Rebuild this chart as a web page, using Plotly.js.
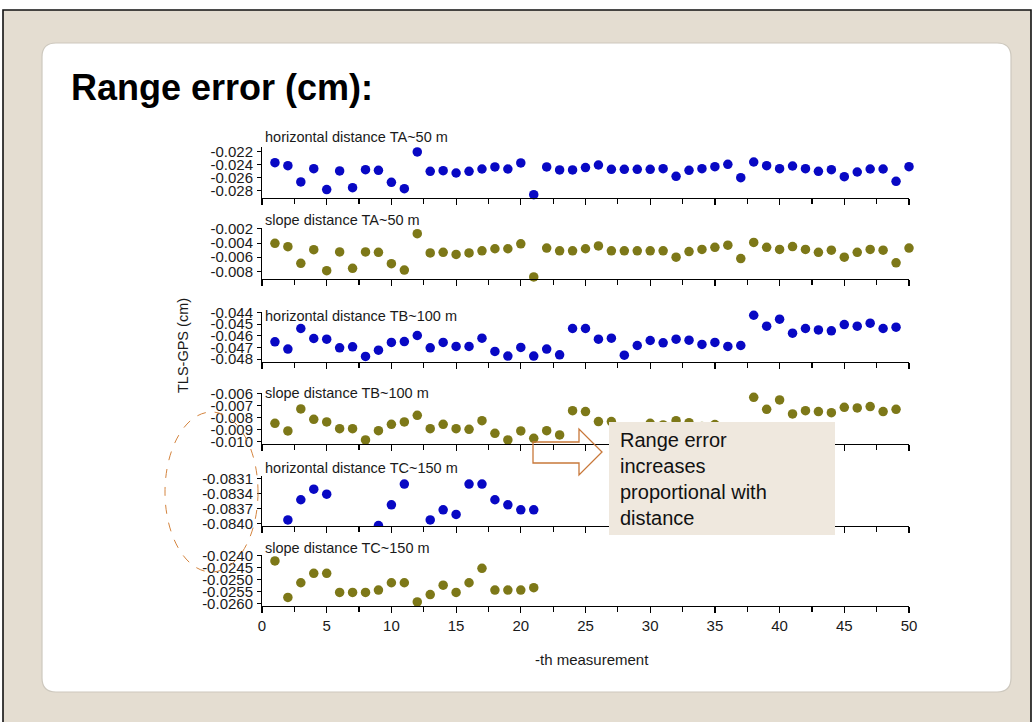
<!DOCTYPE html>
<html><head><meta charset="utf-8">
<script src="https://cdn.plot.ly/plotly-3.0.1.min.js"></script>
<style>html,body{margin:0;padding:0;background:#fff;}#chart{width:1034px;height:722px;}</style>
</head><body><div id="chart"></div>
<script>
// ---------- data ----------
const measTA = [1,2,3,4,5,6,7,8,9,10,11,12,13,14,15,16,17,18,19,20,21,22,23,24,25,26,27,28,29,30,31,32,33,34,35,36,37,38,39,40,41,42,43,44,45,46,47,48,49,50];
const taHorizontal = [-0.02373,-0.02419,-0.02668,-0.02465,-0.02785,-0.02500,-0.02755,-0.02480,-0.02490,-0.02673,
 -0.02770,-0.02210,-0.02505,-0.02495,-0.02531,-0.02505,-0.02470,-0.02439,-0.02470,-0.02378,
 -0.02862,-0.02439,-0.02485,-0.02485,-0.02449,-0.02409,-0.02475,-0.02475,-0.02475,-0.02475,
 -0.02465,-0.02582,-0.02490,-0.02465,-0.02434,-0.02398,-0.02602,-0.02363,-0.02419,-0.02465,
 -0.02424,-0.02465,-0.02505,-0.02480,-0.02587,-0.02516,-0.02470,-0.02470,-0.02658,-0.02434];
const taSlope = [-0.00403,-0.00451,-0.00687,-0.00493,-0.00791,-0.00526,-0.00758,-0.00526,-0.00531,-0.00692,
 -0.00782,-0.00266,-0.00540,-0.00530,-0.00560,-0.00540,-0.00510,-0.00480,-0.00480,-0.00410,
 -0.00880,-0.00470,-0.00510,-0.00510,-0.00480,-0.00440,-0.00510,-0.00510,-0.00510,-0.00510,
 -0.00510,-0.00600,-0.00520,-0.00490,-0.00460,-0.00430,-0.00620,-0.00390,-0.00460,-0.00490,
 -0.00450,-0.00490,-0.00530,-0.00500,-0.00600,-0.00530,-0.00490,-0.00500,-0.00680,-0.00470];
const measTB = [1,2,3,4,5,6,7,8,9,10,11,12,13,14,15,16,17,18,19,20,21,22,23,24,25,26,27,28,29,30,31,32,33,34,35,36,37,38,39,40,41,42,43,44,45,46,47,48,49];
const tbHorizontal = [-0.04651,-0.04714,-0.04537,-0.04623,-0.04629,-0.04703,-0.04694,-0.04777,-0.04723,-0.04657,
 -0.04649,-0.04597,-0.04703,-0.04657,-0.04691,-0.04691,-0.04620,-0.04734,-0.04774,-0.04700,
 -0.04774,-0.04714,-0.04763,-0.04537,-0.04537,-0.04629,-0.04620,-0.04766,-0.04683,-0.04640,
 -0.04660,-0.04629,-0.04637,-0.04674,-0.04657,-0.04691,-0.04683,-0.04423,-0.04517,-0.04457,
 -0.04577,-0.04537,-0.04549,-0.04557,-0.04503,-0.04517,-0.04491,-0.04537,-0.04526];
const tbSlope = [-0.00846,-0.00910,-0.00726,-0.00813,-0.00835,-0.00891,-0.00891,-0.00986,-0.00908,-0.00855,
 -0.00835,-0.00779,-0.00891,-0.00855,-0.00891,-0.00897,-0.00824,-0.00930,-0.00986,-0.00910,
 -0.00972,-0.00908,-0.00944,-0.00740,-0.00748,-0.00832,-0.00832,-0.00966,-0.00883,-0.00846,
 -0.00860,-0.00824,-0.00841,-0.00874,-0.00857,-0.00891,-0.00883,-0.00628,-0.00729,-0.00650,
 -0.00768,-0.00740,-0.00748,-0.00757,-0.00712,-0.00717,-0.00706,-0.00748,-0.00729];
const measTCh = [2,3,4,5,9,10,11,13,14,15,16,17,18,19,20,21];
const tcHorizontal = [-0.08392,-0.08352,-0.08331,-0.08341,-0.08403,-0.08362,-0.08321,-0.08392,-0.08372,-0.08381,-0.08321,-0.08321,-0.08352,-0.08362,-0.08372,-0.08372];
const measTCs = [1,2,3,4,5,6,7,8,9,10,11,12,13,14,15,16,17,18,19,20,21];
const tcSlope = [-0.02421,-0.02575,-0.02513,-0.02473,-0.02473,-0.02554,-0.02554,-0.02554,-0.02544,-0.02513,
 -0.02513,-0.02594,-0.02563,-0.02523,-0.02554,-0.02513,-0.02452,-0.02544,-0.02544,-0.02544,-0.02534];

const panelTitles = ["horizontal distance TA~50 m","slope distance TA~50 m","horizontal distance TB~100 m",
  "slope distance TB~100 m","horizontal distance TC~150 m","slope distance TC~150 m"];
const yTickVals = [[-0.022,-0.024,-0.026,-0.028],[-0.002,-0.004,-0.006,-0.008],[-0.044,-0.045,-0.046,-0.047,-0.048],
  [-0.006,-0.007,-0.008,-0.009,-0.010],[-0.0831,-0.0834,-0.0837,-0.0840],[-0.0240,-0.0245,-0.0250,-0.0255,-0.0260]];
const yTickText = [["-0.022","-0.024","-0.026","-0.028"],["-0.002","-0.004","-0.006","-0.008"],
  ["-0.044","-0.045","-0.046","-0.047","-0.048"],["-0.006","-0.007","-0.008","-0.009","-0.010"],
  ["-0.0831","-0.0834","-0.0837","-0.0840"],["-0.0240","-0.0245","-0.0250","-0.0255","-0.0260"]];
const xTickVals = [0,5,10,15,20,25,30,35,40,45,50];
const xTickText = ["0","5","10","15","20","25","30","35","40","45","50"];
const xMinorVals = [2.5,7.5,12.5,17.5,22.5,27.5,32.5,37.5,42.5,47.5];
const mainTitle = "Range error (cm):";
const xTitle = "-th measurement";
const yTitle = "TLS-GPS (cm)";
const noteText = "Range error<br>increases<br>proportional with<br>distance";

// ---------- layout helpers ----------
const W = 1034, H = 722;
const px = x => x / W;
const py = y => 1 - y / H;
const FONT = "Liberation Sans, Arial, sans-serif";
const BLUE = "#0808c4", OLIVE = "#7d7818";

const panelPx = [[147,198],[228,279],[312,362],[393,444],[476,526],[555,606]];
const yRanges = [[-0.02913,-0.02134],[-0.00909,-0.00186],[-0.04825,-0.04395],[-0.01020,-0.00592],[-0.08404,-0.08305],[-0.02611,-0.02396]];
const titleY = [137,220,316,393,468,548];

const series = [
  {x: measTA, y: taHorizontal, c: BLUE},
  {x: measTA, y: taSlope, c: OLIVE},
  {x: measTB, y: tbHorizontal, c: BLUE},
  {x: measTB, y: tbSlope, c: OLIVE},
  {x: measTCh, y: tcHorizontal, c: BLUE},
  {x: measTCs, y: tcSlope, c: OLIVE}
];

const traces = [];
const layout = {
  width: W, height: H,
  margin: {l:0, r:0, t:0, b:0},
  paper_bgcolor: "#ffffff",
  plot_bgcolor: "rgba(0,0,0,0)",
  showlegend: false,
  font: {family: FONT, color: "#1a1a1a"},
  shapes: [], annotations: []
};

series.forEach((s, i) => {
  const n = i + 1;
  const sfx = n === 1 ? "" : String(n);
  traces.push({
    type: "scatter", mode: "markers", x: s.x, y: s.y,
    xaxis: "x" + sfx, yaxis: "y" + sfx,
    marker: {color: s.c, size: 9.5},
    cliponaxis: n === 5,
    hoverinfo: "x+y"
  });
  layout["xaxis" + sfx] = {
    domain: [px(262), px(909)], range: [0, 50], anchor: "y" + sfx,
    showline: true, linecolor: "#000", linewidth: 1.3,
    ticks: "outside", ticklen: 6, tickwidth: 1.2, tickcolor: "#000",
    tickmode: "array", tickvals: xTickVals, ticktext: xTickText,
    showticklabels: n === 6, tickfont: {size: 15, color: "#1a1a1a", family: FONT},
    minor: {tickmode: "array", tickvals: xMinorVals, ticks: "outside", ticklen: 5, tickwidth: 1.2, tickcolor: "#000", showgrid: false},
    showgrid: false, zeroline: false, fixedrange: true
  };
  layout["yaxis" + sfx] = {
    domain: [py(panelPx[i][1]), py(panelPx[i][0])], range: yRanges[i], anchor: "x" + sfx,
    showline: true, linecolor: "#000", linewidth: 1,
    ticks: "outside", ticklen: 4, tickcolor: "#000",
    tickmode: "array", tickvals: yTickVals[i], ticktext: yTickText[i],
    tickfont: {size: 15, color: "#1a1a1a", family: FONT},
    ticklabelstandoff: 1,
    showgrid: false, zeroline: false, fixedrange: true
  };
  layout.annotations.push({
    xref: "paper", yref: "paper", x: px(263), y: py(titleY[i]),
    xanchor: "left", yanchor: "middle", showarrow: false,
    text: panelTitles[i], font: {size: 14.5, color: "#1a1a1a", family: FONT}
  });
});

const r = 14, cx0 = 42, cx1 = 1011, cy0 = 43, cy1 = 692;
const cardPath = `M ${px(cx0+r)} ${py(cy0)} L ${px(cx1-r)} ${py(cy0)} Q ${px(cx1)} ${py(cy0)} ${px(cx1)} ${py(cy0+r)} ` +
  `L ${px(cx1)} ${py(cy1-r)} Q ${px(cx1)} ${py(cy1)} ${px(cx1-r)} ${py(cy1)} L ${px(cx0+r)} ${py(cy1)} ` +
  `Q ${px(cx0)} ${py(cy1)} ${px(cx0)} ${py(cy1-r)} L ${px(cx0)} ${py(cy0+r)} Q ${px(cx0)} ${py(cy0)} ${px(cx0+r)} ${py(cy0)} Z`;
layout.shapes.push(
  {type: "rect", xref: "paper", yref: "paper", x0: px(3), x1: px(1031), y0: -0.05, y1: py(10),
   fillcolor: "#e4ddd1", line: {color: "#111", width: 1.6}, layer: "below"},
  {type: "path", xref: "paper", yref: "paper", path: cardPath,
   fillcolor: "#ffffff", line: {color: "#cdc8be", width: 1.2}, layer: "below"},
  {type: "rect", xref: "paper", yref: "paper", x0: px(609), x1: px(835), y0: py(535), y1: py(422),
   fillcolor: "#efe8de", line: {width: 0}, layer: "above"},
  {type: "path", xref: "paper", yref: "paper",
   path: `M ${px(533)} ${py(442)} L ${px(579)} ${py(442)} L ${px(579)} ${py(429)} L ${px(602)} ${py(452)} L ${px(579)} ${py(475)} L ${px(579)} ${py(463)} L ${px(533)} ${py(463)} Z`,
   fillcolor: "rgba(0,0,0,0)", line: {color: "#c8783a", width: 1.3}, layer: "above"},
  {type: "circle", xref: "paper", yref: "paper", x0: px(165), x1: px(258), y0: py(572), y1: py(412),
   fillcolor: "rgba(0,0,0,0)", line: {color: "#d4843e", width: 1, dash: "dash"}, layer: "above"}
);

layout.annotations.push(
  {xref: "paper", yref: "paper", x: px(69), y: py(88), xanchor: "left", yanchor: "middle", showarrow: false,
   text: "<b>" + mainTitle + "</b>", font: {size: 36, color: "#000", family: FONT}},
  {xref: "paper", yref: "paper", x: px(592), y: py(659), xanchor: "center", yanchor: "middle", showarrow: false,
   text: xTitle, font: {size: 15, color: "#1a1a1a", family: FONT}},
  {xref: "paper", yref: "paper", x: px(183), y: py(346), xanchor: "center", yanchor: "middle", showarrow: false,
   textangle: -90, text: yTitle, font: {size: 14.5, color: "#1a1a1a", family: FONT}},
  {xref: "paper", yref: "paper", x: px(618), y: py(479), xanchor: "left", yanchor: "middle", showarrow: false,
   align: "left", text: noteText, font: {size: 20, color: "#111", family: FONT}}
);

Plotly.newPlot("chart", traces, layout, {displayModeBar: false, staticPlot: true});
</script>
</body></html>
